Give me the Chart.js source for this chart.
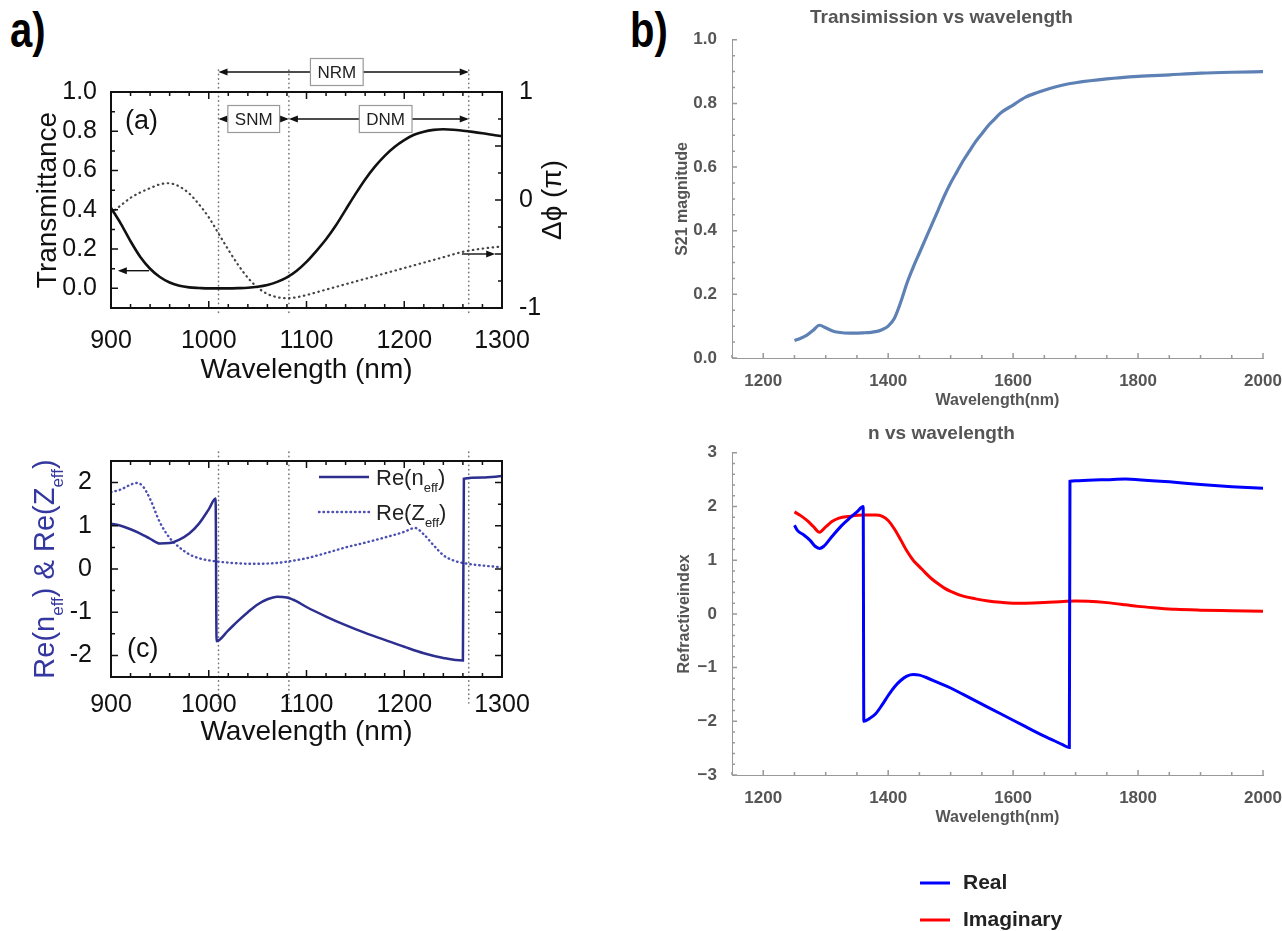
<!DOCTYPE html>
<html>
<head>
<meta charset="utf-8">
<title>Transmission and effective parameters</title>
<script src="https://cdn.jsdelivr.net/npm/chart.js@4.4.1/dist/chart.umd.min.js"></script>
<style>
  html, body { margin: 0; padding: 0; background: #fff; }
  body { position: relative; width: 1282px; height: 931px; overflow: hidden; }
  .panel { position: absolute; }
  .tag { position: absolute; top: 5px; font: bold 50px "Liberation Sans", Arial, sans-serif; line-height: 1; color: #000;
         transform: scaleX(0.8); transform-origin: left top; }
</style>
</head>
<body>
<div class="tag" style="left:10px">a)</div>
<div class="tag" style="left:630px">b)</div>
<div class="panel" style="left:0;top:55px;width:580px;height:350px"><canvas id="trans"></canvas></div>
<div class="panel" style="left:0;top:420px;width:580px;height:330px"><canvas id="neff"></canvas></div>
<div class="panel" style="left:620px;top:0;width:680px;height:420px"><canvas id="s21"></canvas></div>
<div class="panel" style="left:620px;top:420px;width:680px;height:511px"><canvas id="index"></canvas></div>
<script>
// (a) transmittance and phase, 900-1300 nm
var wlT = [900,910,920,930,940,950,960,970,980,990,1000,1010,1020,1030,1040,1050,1060,1070,1080,1090,
           1100,1110,1120,1130,1140,1150,1160,1170,1180,1190,1200,1210,1220,1230,1240,1250,1260,1270,1280,1290,1300];
var transmittance = [0.41,0.33,0.24,0.16,0.10,0.058,0.03,0.013,0.005,0.002,0.0,0.0,0.0,0.001,0.003,0.008,0.017,0.033,0.056,0.09,
                     0.135,0.19,0.25,0.32,0.40,0.48,0.555,0.62,0.675,0.72,0.755,0.782,0.798,0.807,0.81,0.808,0.803,0.797,0.79,0.782,0.775];
var wlPhase = [900,910,920,930,940,950,958,965,970,980,990,1000,1010,1020,1030,1040,1050,1060,1070,1080,
               1090,1100,1120,1140,1160,1180,1200,1220,1240,1260,1280,1300];
var phase = [-0.12,-0.05,0.02,0.07,0.11,0.145,0.155,0.145,0.125,0.06,-0.04,-0.16,-0.31,-0.46,-0.6,-0.72,-0.81,-0.87,-0.9,-0.91,
             -0.9,-0.88,-0.83,-0.78,-0.73,-0.68,-0.63,-0.58,-0.53,-0.48,-0.45,-0.43];

// (c) effective index and impedance
var wlN = [900,910,920,930,940,950,960,970,980,990,1000,1007,1008,1020,1030,1040,1050,1060,1070,1080,
           1090,1100,1120,1140,1160,1180,1200,1220,1240,1260,1261,1280,1300];
var reN = [1.05,1.0,0.92,0.82,0.7,0.59,0.6,0.68,0.82,1.05,1.38,1.63,-1.67,-1.42,-1.2,-1.0,-0.82,-0.7,-0.64,-0.66,
           -0.75,-0.88,-1.1,-1.3,-1.48,-1.64,-1.8,-1.95,-2.06,-2.12,2.09,2.12,2.15];
var wlZ = [900,910,918,926,932,940,950,960,970,980,990,1000,1010,1030,1050,1070,1080,1100,1120,1140,
           1160,1180,1200,1211,1220,1230,1240,1250,1265,1280,1300];
var reZ = [1.78,1.84,1.93,1.99,1.93,1.62,1.08,0.72,0.5,0.34,0.25,0.2,0.17,0.13,0.12,0.14,0.17,0.25,0.37,0.5,
           0.61,0.73,0.86,0.95,0.8,0.55,0.32,0.2,0.12,0.08,0.04];

// (b) simulated S21 and retrieved index, 1250-2000 nm
var wlS21 = [1250,1260,1270,1280,1290,1300,1310,1320,1340,1360,1380,1390,1400,1410,1420,1430,1440,1450,1460,1470,
             1480,1490,1500,1510,1520,1530,1540,1550,1560,1570,1580,1600,1620,1640,1660,1680,1700,1750,1800,1850,
             1900,1950,2000];
var s21 = [0.055,0.062,0.072,0.087,0.103,0.095,0.086,0.081,0.078,0.079,0.083,0.089,0.1,0.125,0.175,0.235,0.285,0.33,0.375,0.42,
           0.465,0.51,0.55,0.585,0.62,0.65,0.68,0.705,0.73,0.75,0.77,0.795,0.82,0.835,0.848,0.858,0.865,0.877,0.885,0.89,
           0.895,0.898,0.9];
var wlReal = [1250,1255,1265,1275,1283,1290,1297,1310,1325,1340,1350,1360,1361,1370,1380,1390,1400,1410,1420,1430,
              1440,1450,1460,1480,1500,1520,1540,1560,1580,1600,1620,1640,1660,1680,1690,1691,1700,1720,1750,1780,
              1800,1850,1900,1950,2000];
var nReal = [1.65,1.55,1.47,1.37,1.26,1.22,1.26,1.44,1.64,1.8,1.9,2.0,-2.0,-1.95,-1.86,-1.7,-1.52,-1.36,-1.24,-1.16,
             -1.13,-1.14,-1.18,-1.28,-1.38,-1.5,-1.62,-1.74,-1.86,-1.98,-2.1,-2.22,-2.33,-2.44,-2.49,2.47,2.48,2.49,2.5,2.51,
             2.5,2.46,2.41,2.37,2.34];
var wlImag = [1250,1260,1270,1280,1290,1300,1310,1320,1340,1360,1380,1390,1400,1410,1420,1430,1440,1450,1460,1470,
              1480,1490,1500,1520,1540,1560,1580,1600,1620,1650,1680,1700,1720,1750,1780,1800,1830,1860,1900,1950,2000];
var nImag = [1.9,1.83,1.74,1.63,1.52,1.62,1.72,1.78,1.82,1.84,1.84,1.82,1.74,1.58,1.38,1.17,1.0,0.88,0.76,0.65,
             0.56,0.48,0.42,0.33,0.28,0.24,0.215,0.2,0.2,0.21,0.23,0.24,0.235,0.21,0.17,0.14,0.11,0.085,0.07,0.06,0.05];

// tick labels
var ticksA = [900,1000,1100,1200,1300];
var ticksT = [0,0.2,0.4,0.6,0.8,1.0];
var ticksPhase = [-1,0,1];
var ticksNZ = [-2,-1,0,1,2];
var ticksB = [1200,1400,1600,1800,2000];
var ticksS21 = [0,0.2,0.4,0.6,0.8,1.0];
var ticksIndex = [-3,-2,-1,0,1,2,3];

// mode boundaries (nm) and band labels
var modeLines = [1010,1082,1266];
var bands = [
  { name: 'NRM', from: 1010, to: 1266, at: 1131, row: 0 },
  { name: 'SNM', from: 1010, to: 1082, at: 1046, row: 1 },
  { name: 'DNM', from: 1082, to: 1266, at: 1181, row: 1 }
];

var SANS = '"Liberation Sans", Arial, sans-serif';
Chart.defaults.font.family = SANS;
Chart.defaults.animation = false;
Chart.defaults.events = [];
Chart.defaults.plugins.legend.display = false;
Chart.defaults.plugins.tooltip.enabled = false;
Chart.defaults.elements.point.radius = 0;
Chart.defaults.elements.line.cubicInterpolationMode = 'monotone';

function pts(xs, ys) { return xs.map(function (x, i) { return { x: x, y: ys[i] }; }); }
function fixTicks(list) { return function (s) { s.ticks = list.map(function (v) { return { value: v }; }); }; }
function fixWidth(w) { return function (s) { s.width = w; }; }
function fixHeight(h) { return function (s) { s.height = h; }; }
function plain(v) { return String(v); }
function oneDecimal(v) { return v.toFixed(1); }
function onStep(v, step) { return Math.abs(v / step - Math.round(v / step)) < 1e-6; }

// short tick marks drawn into the plot area
function innerTicks(chart, id, step, major, sides, len, color) {
  var ctx = chart.ctx, a = chart.chartArea, s = chart.scales[id];
  var n = Math.round((s.max - s.min) / step);
  ctx.save();
  ctx.strokeStyle = color; ctx.lineWidth = 1.5;
  ctx.beginPath();
  for (var i = 0; i <= n; i++) {
    var v = s.min + i * step, p = s.getPixelForValue(v);
    var l = onStep(v, major) ? len[0] : len[1];
    sides.forEach(function (side) {
      if (side === 'bottom') { ctx.moveTo(p, a.bottom); ctx.lineTo(p, a.bottom - l); }
      if (side === 'top') { ctx.moveTo(p, a.top); ctx.lineTo(p, a.top + l); }
      if (side === 'left') { ctx.moveTo(a.left, p); ctx.lineTo(a.left + l, p); }
      if (side === 'right') { ctx.moveTo(a.right, p); ctx.lineTo(a.right - l, p); }
    });
  }
  ctx.stroke();
  ctx.restore();
}

function frame(chart) {
  var ctx = chart.ctx, a = chart.chartArea;
  ctx.save();
  ctx.strokeStyle = '#111'; ctx.lineWidth = 2;
  ctx.strokeRect(a.left, a.top, a.right - a.left, a.bottom - a.top);
  ctx.restore();
}

function dottedLines(chart, values, y0, y1) {
  var ctx = chart.ctx, x = chart.scales.x;
  ctx.save();
  ctx.strokeStyle = '#777'; ctx.lineWidth = 1.6; ctx.lineCap = 'round';
  ctx.setLineDash([0.4, 4]);
  values.forEach(function (v) {
    var p = x.getPixelForValue(v);
    ctx.beginPath(); ctx.moveTo(p, y0); ctx.lineTo(p, y1); ctx.stroke();
  });
  ctx.restore();
}

function arrowHead(ctx, x, y, dir) {
  ctx.beginPath();
  ctx.moveTo(x, y); ctx.lineTo(x - dir * 9, y - 3.5); ctx.lineTo(x - dir * 9, y + 3.5);
  ctx.closePath(); ctx.fill();
}

// text with subscript parts, e.g. ['Re(n', {sub: 'eff'}, ')']
function richText(ctx, parts, x, y, size, color, align, rot) {
  ctx.save();
  ctx.translate(x, y);
  if (rot) ctx.rotate(rot);
  ctx.fillStyle = color;
  ctx.textBaseline = 'alphabetic';
  ctx.textAlign = 'left';
  var fontFor = function (sub) { return (sub ? Math.round(size * 0.6) : size) + 'px ' + SANS; };
  var total = 0;
  var widths = parts.map(function (p) {
    var sub = typeof p !== 'string';
    ctx.font = fontFor(sub);
    var w = ctx.measureText(sub ? p.sub : p).width;
    total += w; return w;
  });
  var cx = align === 'left' ? 0 : -total / 2;
  var base = size * 0.36;
  parts.forEach(function (p, i) {
    var sub = typeof p !== 'string';
    ctx.font = fontFor(sub);
    ctx.fillText(sub ? p.sub : p, cx, base + (sub ? size * 0.3 : 0));
    cx += widths[i];
  });
  ctx.restore();
}

// ---- (a) transmittance / phase ----
var transDecor = {
  id: 'transDecor',
  beforeDatasetsDraw: function (chart) {
    var a = chart.chartArea;
    dottedLines(chart, modeLines, a.top - 22, a.bottom + 5);
  },
  afterDatasetsDraw: function (chart) {
    var ctx = chart.ctx, a = chart.chartArea, x = chart.scales.x, y = chart.scales.y, y1 = chart.scales.y1;
    frame(chart);
    innerTicks(chart, 'x', 20, 100, ['bottom', 'top'], [7, 4], '#111');
    innerTicks(chart, 'y', 0.1, 0.2, ['left'], [7, 4], '#111');
    innerTicks(chart, 'y1', 0.25, 0.5, ['right'], [7, 4], '#111');

    // mode ranges above the curves
    ctx.save();
    ctx.fillStyle = '#111'; ctx.strokeStyle = '#111'; ctx.lineWidth = 1.4;
    bands.forEach(function (b) {
      var yy = b.row === 0 ? a.top - 20 : a.top + 27;
      var x0 = x.getPixelForValue(b.from), x1 = x.getPixelForValue(b.to), xc = x.getPixelForValue(b.at);
      ctx.beginPath(); ctx.moveTo(x0 + 2, yy); ctx.lineTo(x1 - 2, yy); ctx.stroke();
      arrowHead(ctx, x0, yy, -1);
      arrowHead(ctx, x1, yy, 1);
      ctx.font = '17px ' + SANS;
      var w = ctx.measureText(b.name).width + 14;
      ctx.fillStyle = '#fff'; ctx.fillRect(xc - w / 2, yy - 13.5, w, 27);
      ctx.strokeStyle = '#9a9a9a'; ctx.lineWidth = 1.2; ctx.strokeRect(xc - w / 2, yy - 13.5, w, 27);
      ctx.fillStyle = '#222'; ctx.textAlign = 'center'; ctx.textBaseline = 'middle';
      ctx.fillText(b.name, xc, yy + 1);
      ctx.fillStyle = '#111'; ctx.strokeStyle = '#111'; ctx.lineWidth = 1.4;
    });

    // arrows telling which axis each curve uses
    var ya = y.getPixelForValue(0.09);
    ctx.beginPath(); ctx.moveTo(x.getPixelForValue(939), ya); ctx.lineTo(x.getPixelForValue(910), ya); ctx.stroke();
    arrowHead(ctx, x.getPixelForValue(907), ya, -1);
    var yb = y1.getPixelForValue(-0.5);
    ctx.beginPath(); ctx.moveTo(x.getPixelForValue(1259), yb); ctx.lineTo(x.getPixelForValue(1290), yb); ctx.stroke();
    arrowHead(ctx, x.getPixelForValue(1293), yb, 1);

    ctx.font = '27px ' + SANS; ctx.textAlign = 'left'; ctx.textBaseline = 'middle';
    ctx.fillText('(a)', a.left + 14, a.top + 30);
    ctx.restore();
  },
  afterDraw: function (chart) {
    var ctx = chart.ctx, a = chart.chartArea;
    ctx.save();
    ctx.translate(a.right + 51, (a.top + a.bottom) / 2);
    ctx.rotate(-Math.PI / 2);
    ctx.font = '28px ' + SANS; ctx.fillStyle = '#111';
    ctx.textAlign = 'center'; ctx.textBaseline = 'middle';
    ctx.fillText('\u0394\u03d5 (\u03c0)', 0, 0);
    ctx.restore();
  }
};

new Chart('trans', {
  type: 'line',
  data: {
    datasets: [
      { label: 'Transmittance', data: pts(wlT, transmittance), yAxisID: 'y', borderColor: '#111', borderWidth: 2.6 },
      { label: 'Phase', data: pts(wlPhase, phase), yAxisID: 'y1', borderColor: '#444', borderWidth: 2.2,
        borderDash: [0.5, 4.5], borderCapStyle: 'round' }
    ]
  },
  options: {
    responsive: true, maintainAspectRatio: false,
    layout: { padding: { top: 37, left: 0, right: 0, bottom: 0 } },
    scales: {
      x: { type: 'linear', min: 900, max: 1300, afterBuildTicks: fixTicks(ticksA), afterFit: fixHeight(97),
           grid: { display: false }, border: { display: false },
           ticks: { font: { size: 25 }, color: '#111', padding: 10, maxRotation: 0, callback: plain },
           title: { display: true, text: 'Wavelength (nm)', font: { size: 28 }, color: '#111', padding: { top: 0, bottom: 18 } } },
      y: { min: -0.1, max: 1.0, afterBuildTicks: fixTicks(ticksT), afterFit: fixWidth(111),
           grid: { display: false }, border: { display: false },
           ticks: { font: { size: 25 }, color: '#111', padding: 6, callback: oneDecimal },
           title: { display: true, text: 'Transmittance', font: { size: 28 }, color: '#111', padding: { top: 31, bottom: 0 } } },
      y1: { position: 'right', min: -1, max: 1, afterBuildTicks: fixTicks(ticksPhase), afterFit: fixWidth(78),
            grid: { display: false }, border: { display: false },
            ticks: { font: { size: 25 }, color: '#111', padding: 9, callback: plain } }
    }
  },
  plugins: [transDecor]
});

// ---- (c) Re(n_eff) and Re(Z_eff) ----
var NAVY = '#2c2f8f';
var neffNames = [['Re(n', { sub: 'eff' }, ')'], ['Re(Z', { sub: 'eff' }, ')']];
var neffDecor = {
  id: 'neffDecor',
  beforeDatasetsDraw: function (chart) {
    var a = chart.chartArea;
    dottedLines(chart, modeLines, a.top - 9, a.bottom + 26);
  },
  afterDatasetsDraw: function (chart) {
    var ctx = chart.ctx, a = chart.chartArea;
    frame(chart);
    innerTicks(chart, 'x', 20, 100, ['bottom', 'top'], [7, 4], '#111');
    innerTicks(chart, 'y', 0.5, 1, ['left', 'right'], [7, 4], '#111');

    // legend
    chart.data.datasets.forEach(function (ds, i) {
      var yy = a.top + 16 + i * 35;
      ctx.save();
      ctx.strokeStyle = ds.borderColor; ctx.lineWidth = ds.borderWidth;
      ctx.lineCap = ds.borderCapStyle || 'butt';
      ctx.setLineDash(ds.borderDash || []);
      ctx.beginPath(); ctx.moveTo(a.left + 208, yy); ctx.lineTo(a.left + 258, yy); ctx.stroke();
      ctx.restore();
      richText(ctx, neffNames[i], a.left + 265, yy, 22, '#222', 'left');
    });

    ctx.save();
    ctx.font = '27px ' + SANS; ctx.fillStyle = '#111'; ctx.textBaseline = 'middle';
    ctx.fillText('(c)', a.left + 16, a.bottom - 27);
    ctx.restore();
  },
  afterDraw: function (chart) {
    var a = chart.chartArea;
    richText(chart.ctx, ['Re(n', { sub: 'eff' }, ') & Re(Z', { sub: 'eff' }, ')'],
             44, (a.top + a.bottom) / 2, 29, '#34379f', 'center', -Math.PI / 2);
  }
};

new Chart('neff', {
  type: 'line',
  data: {
    datasets: [
      { label: 'Re(n_eff)', data: pts(wlN, reN), borderColor: NAVY, borderWidth: 2.5 },
      { label: 'Re(Z_eff)', data: pts(wlZ, reZ), borderColor: '#4b50b3', borderWidth: 2.4,
        borderDash: [0.5, 4], borderCapStyle: 'round' }
    ]
  },
  options: {
    responsive: true, maintainAspectRatio: false,
    layout: { padding: { top: 41, left: 0, right: 78, bottom: 0 } },
    scales: {
      x: { type: 'linear', min: 900, max: 1300, afterBuildTicks: fixTicks(ticksA), afterFit: fixHeight(73),
           grid: { display: false }, border: { display: false },
           ticks: { font: { size: 25 }, color: '#111', padding: 5, maxRotation: 0, callback: plain },
           title: { display: true, text: 'Wavelength (nm)', font: { size: 28 }, color: '#111', padding: { top: 0, bottom: 1 } } },
      y: { min: -2.5, max: 2.5, afterBuildTicks: fixTicks(ticksNZ), afterFit: fixWidth(111),
           grid: { display: false }, border: { display: false },
           ticks: { font: { size: 25 }, color: '#111', padding: 11, callback: plain } }
    }
  },
  plugins: [neffDecor]
});

// ---- (b) S21 magnitude ----
var GREY = '#555';
var s21Ticks = {
  id: 's21Ticks',
  afterDatasetsDraw: function (chart) {
    innerTicks(chart, 'x', 50, 200, ['bottom'], [5, 3], '#999');
    innerTicks(chart, 'y', 0.05, 0.2, ['left'], [5, 3], '#999');
  }
};

new Chart('s21', {
  type: 'line',
  data: { datasets: [{ label: 'S21', data: pts(wlS21, s21), borderColor: '#5e81b5', borderWidth: 3.2 }] },
  options: {
    responsive: true, maintainAspectRatio: false,
    layout: { padding: { right: 37 } },
    plugins: {
      title: { display: true, text: 'Transimission vs wavelength', color: GREY,
               font: { size: 19, weight: 'bold' }, padding: { top: 6, bottom: 11 } }
    },
    scales: {
      x: { type: 'linear', min: 1150, max: 2000, afterBuildTicks: fixTicks(ticksB), afterFit: fixHeight(62),
           grid: { display: false }, border: { display: true, color: '#999', width: 1 },
           ticks: { font: { size: 17, weight: 'bold' }, color: GREY, padding: 5, maxRotation: 0, callback: plain },
           title: { display: true, text: 'Wavelength(nm)', font: { size: 16, weight: 'bold' }, color: GREY, padding: { top: 0, bottom: 10 } } },
      y: { min: 0, max: 1, afterBuildTicks: fixTicks(ticksS21), afterFit: fixWidth(112),
           grid: { display: false }, border: { display: true, color: '#999', width: 1 },
           ticks: { font: { size: 17, weight: 'bold' }, color: GREY, padding: 7, callback: oneDecimal },
           title: { display: true, text: 'S21 magnitude', font: { size: 16, weight: 'bold' }, color: GREY, padding: { top: 53, bottom: 0 } } }
    }
  },
  plugins: [s21Ticks]
});

// ---- (b) refractive index ----
var indexDecor = {
  id: 'indexDecor',
  afterDatasetsDraw: function (chart) {
    innerTicks(chart, 'x', 50, 200, ['bottom'], [5, 3], '#999');
    innerTicks(chart, 'y', 0.2, 1, ['left'], [5, 3], '#999');
  },
  afterDraw: function (chart) {
    var ctx = chart.ctx;
    ctx.save();
    chart.data.datasets.forEach(function (ds, i) {
      var yy = 463 + i * 37;
      ctx.strokeStyle = ds.borderColor; ctx.lineWidth = 3;
      ctx.beginPath(); ctx.moveTo(300, yy); ctx.lineTo(330, yy); ctx.stroke();
      ctx.font = 'bold 21px ' + SANS; ctx.fillStyle = '#222';
      ctx.textAlign = 'left'; ctx.textBaseline = 'middle';
      ctx.fillText(ds.label, 343, yy);
    });
    ctx.restore();
  }
};

new Chart('index', {
  type: 'line',
  data: {
    datasets: [
      { label: 'Real', data: pts(wlReal, nReal), borderColor: '#0000ff', borderWidth: 3 },
      { label: 'Imaginary', data: pts(wlImag, nImag), borderColor: '#ff0000', borderWidth: 3 }
    ]
  },
  options: {
    responsive: true, maintainAspectRatio: false,
    layout: { padding: { right: 37, bottom: 91 } },
    plugins: {
      title: { display: true, text: 'n vs wavelength', color: GREY,
               font: { size: 19, weight: 'bold' }, padding: { top: 2, bottom: 8 } }
    },
    scales: {
      x: { type: 'linear', min: 1150, max: 2000, afterBuildTicks: fixTicks(ticksB), afterFit: fixHeight(65),
           grid: { display: false }, border: { display: true, color: '#999', width: 1 },
           ticks: { font: { size: 17, weight: 'bold' }, color: GREY, padding: 5, maxRotation: 0, callback: plain },
           title: { display: true, text: 'Wavelength(nm)', font: { size: 16, weight: 'bold' }, color: GREY, padding: { top: 0, bottom: 13 } } },
      y: { min: -3, max: 3, afterBuildTicks: fixTicks(ticksIndex), afterFit: fixWidth(112),
           grid: { display: false }, border: { display: true, color: '#999', width: 1 },
           ticks: { font: { size: 17, weight: 'bold' }, color: GREY, padding: 7,
                    callback: function (v) { return String(v).replace('-', '\u2212'); } },
           title: { display: true, text: 'Refractiveindex', font: { size: 16, weight: 'bold' }, color: GREY, padding: { top: 55, bottom: 0 } } }
    }
  },
  plugins: [indexDecor]
});
</script>
</body>
</html>
